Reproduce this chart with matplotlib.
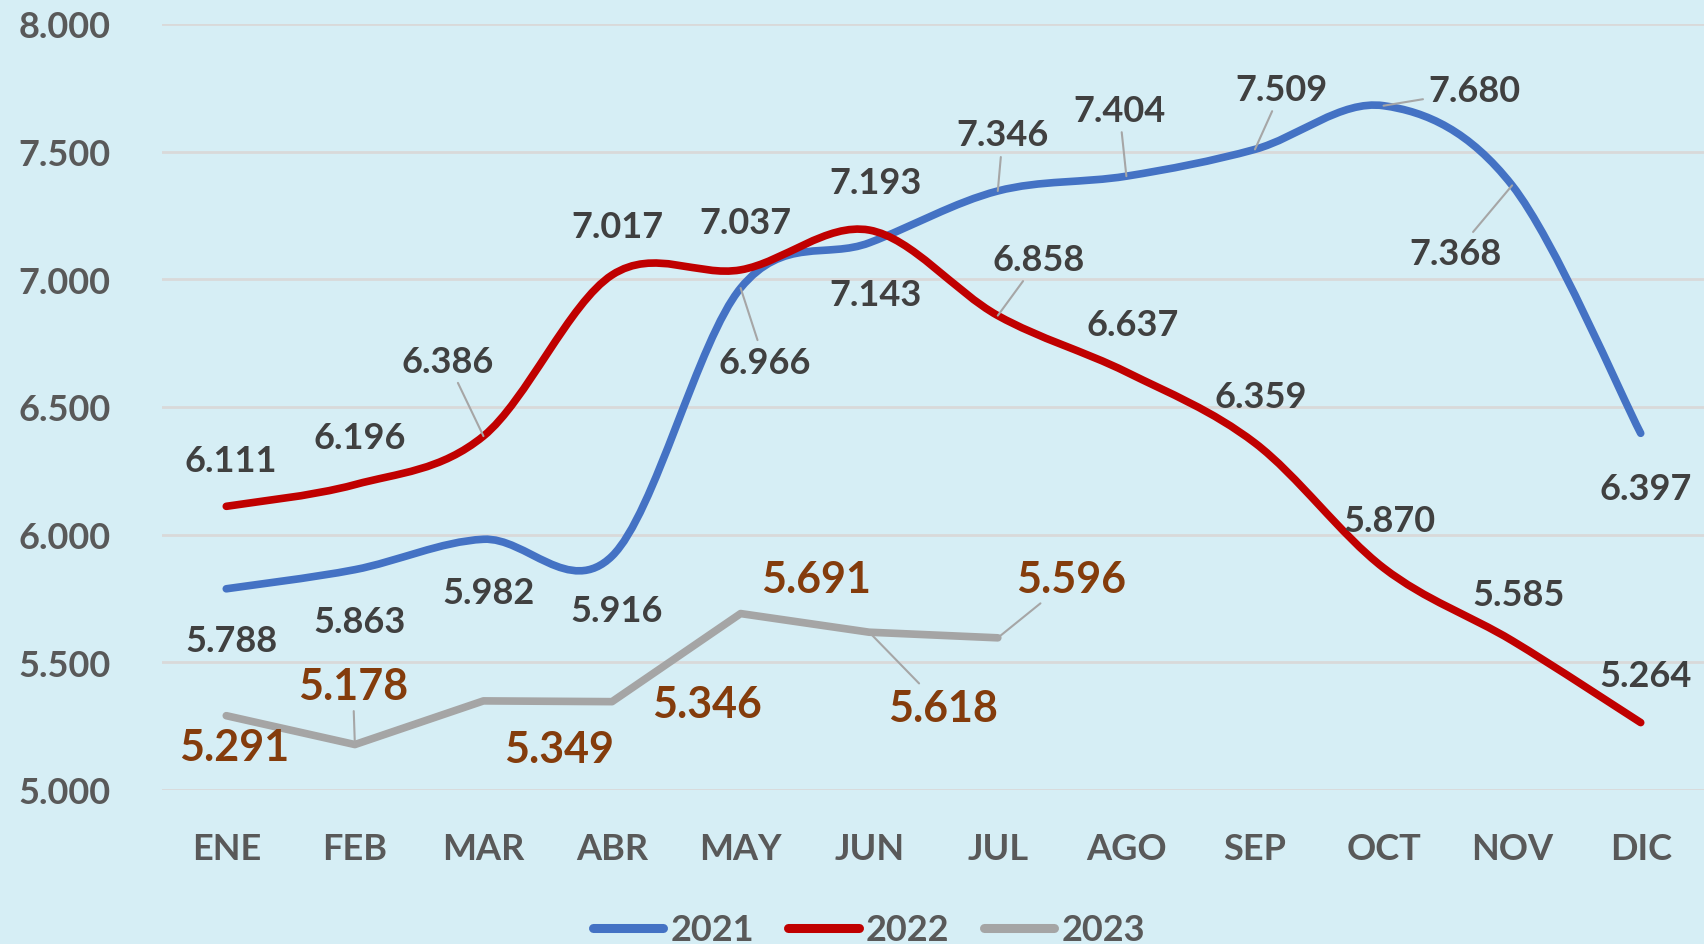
import numpy as np
import matplotlib
matplotlib.use("Agg")
import matplotlib.pyplot as plt
from matplotlib.path import Path
from matplotlib.patches import PathPatch
from matplotlib.lines import Line2D

months = ["ENE", "FEB", "MAR", "ABR", "MAY", "JUN", "JUL", "AGO", "SEP", "OCT", "NOV", "DIC"]
v2021 = [5.788, 5.863, 5.982, 5.916, 6.966, 7.143, 7.346, 7.404, 7.509, 7.680, 7.368, 6.397]
v2022 = [6.111, 6.196, 6.386, 7.017, 7.037, 7.193, 6.858, 6.637, 6.359, 5.870, 5.585, 5.264]
v2023 = [5.291, 5.178, 5.349, 5.346, 5.691, 5.618, 5.596]
yticks = [5.0, 5.5, 6.0, 6.5, 7.0, 7.5, 8.0]

# label offsets (pixels, y down) and whether a leader line is drawn
off2021 = [(5, 52), (5, 52), (5, 53), (5, 54), (24, 74), (6, 52), (5, -56), (-7, -66), (27, -60), (91, -15), (-57, 68), (5, 55)]
lead2021 = [0, 0, 0, 0, 1, 0, 1, 1, 1, 1, 1, 0]
off2022 = [(4, -46), (5, -47), (-36, -75), (5, -48), (5, -47), (6, -48), (41, -56), (6, -48), (6, -47), (6, -47), (6, -46), (5, -47)]
lead2022 = [0, 0, 1, 0, 0, 0, 1, 0, 0, 0, 0, 0]
off2023 = [(8, 31), (-2, -59), (76, 48), (95, 2), (75, -35), (74, 76), (73, -59)]
lead2023 = [0, 1, 0, 0, 0, 1, 1]

BG = "#D6EEF5"
C21, C22, C23 = "#4472C4", "#C00000", "#A5A5A5"
FONT = ["Lato", "DejaVu Sans"]
plt.rcParams["font.family"] = FONT
plt.rcParams["font.weight"] = "bold"

fig = plt.figure(figsize=(17.04, 9.45), dpi=100, facecolor=BG)
ax = fig.add_axes([162 / 1704, 1 - 791 / 945, (1705 - 162) / 1704, (791 - 25) / 945])
ax.set_facecolor(BG)
ax.set_xlim(-0.5, 11.5)
ax.set_ylim(5.0, 8.0)
ax.set_yticks(yticks)
ax.set_yticklabels([f"{t:.3f}" for t in yticks])
ax.set_xticks(range(12))
ax.set_xticklabels(months)
for s in ax.spines.values():
    s.set_visible(False)
ax.grid(axis="y", color="#D9D9D9", lw=2)
ax.set_axisbelow(True)
ax.tick_params(axis="both", length=0, labelsize=26, labelcolor="#595959")
ax.tick_params(axis="x", pad=30)
ax.tick_params(axis="y", pad=37)
for lab in ax.get_xticklabels() + ax.get_yticklabels():
    lab.set_fontweight("bold")


def smooth_path(xs, ys):
    P = np.column_stack([xs, ys]).astype(float)
    n = len(P)
    verts = [P[0]]
    codes = [Path.MOVETO]
    for i in range(n - 1):
        p0 = P[i - 1] if i > 0 else P[i]
        p1, p2 = P[i], P[i + 1]
        p3 = P[i + 2] if i + 2 < n else P[i + 1]
        b1 = p1 + (p2 - p0) / 6.0
        b2 = p2 - (p3 - p1) / 6.0
        verts += [b1, b2, p2]
        codes += [Path.CURVE4] * 3
    return Path(verts, codes)


for vals, col in [(v2021, C21), (v2022, C22)]:
    pp = PathPatch(smooth_path(range(len(vals)), vals), fill=False, edgecolor=col,
                   lw=5.5, capstyle="round", joinstyle="round", zorder=3)
    ax.add_patch(pp)
ax.plot(range(len(v2023)), v2023, color=C23, lw=5.5, solid_capstyle="round",
        solid_joinstyle="round", zorder=3)


def labels(vals, offs, leads, color, size):
    for i, (v, (dx, dy), ld) in enumerate(zip(vals, offs, leads)):
        kw = {}
        if ld:
            kw["arrowprops"] = dict(arrowstyle="-", color="#A6A6A6", lw=1.5,
                                    shrinkA=2, shrinkB=0)
        ax.annotate(f"{v:.3f}", xy=(i, v), xytext=(dx, -dy), textcoords="offset pixels",
                    ha="center", va="center", fontsize=size, fontweight="bold",
                    color=color, zorder=5, annotation_clip=False, **kw)


labels(v2021, off2021, lead2021, "#404040", 26)
labels(v2022, off2022, lead2022, "#404040", 26)
labels(v2023, off2023, lead2023, "#843C0C", 31)

handles = [Line2D([], [], color=c, lw=6.5, solid_capstyle="round") for c in (C21, C22, C23)]
leg = fig.legend(handles, ["2021", "2022", "2023"], loc="center", bbox_to_anchor=(0.51, 0.015),
                 ncol=3, frameon=False, fontsize=26, handlelength=1.95, handletextpad=0.2,
                 columnspacing=0.95, borderpad=0, borderaxespad=0)
for t in leg.get_texts():
    t.set_color("#595959")
    t.set_fontweight("bold")

fig.savefig("out.png", dpi=100, facecolor=BG)
